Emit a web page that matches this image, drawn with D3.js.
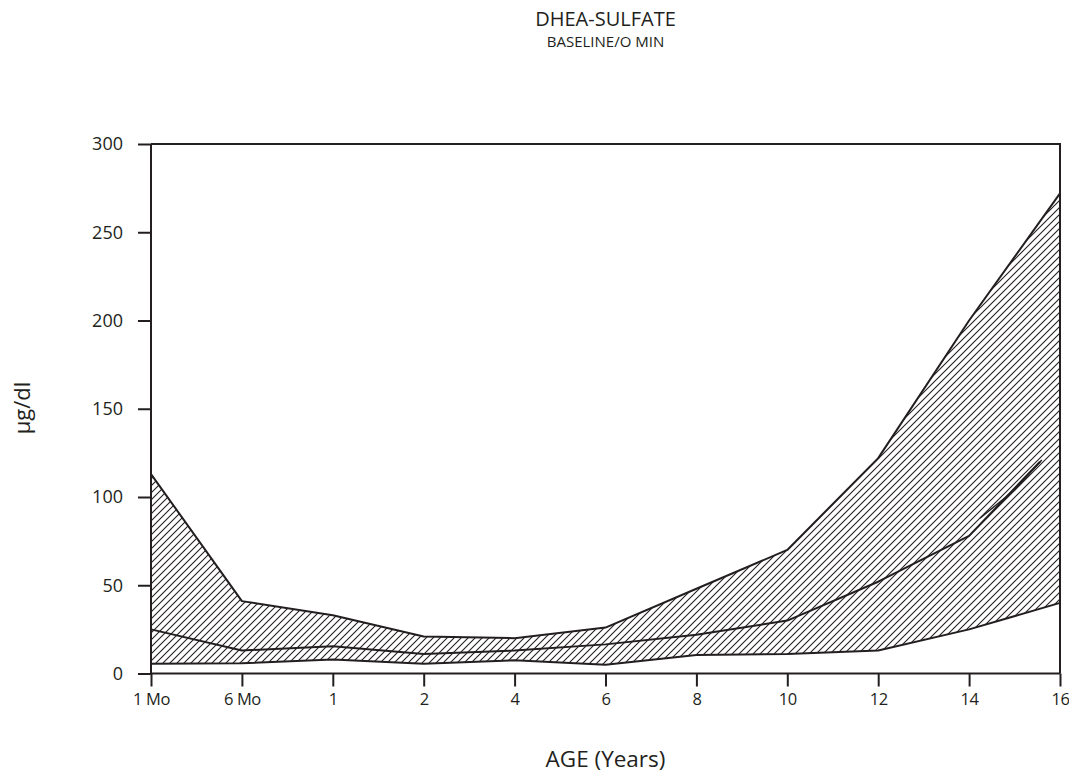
<!DOCTYPE html>
<html>
<head>
<meta charset="utf-8">
<script src="https://cdn.jsdelivr.net/npm/d3@7/dist/d3.min.js"></script>
<style>
  html, body { margin: 0; padding: 0; background: #fff; }
  svg { display: block; }
  text { font-family: "Open Sans", "DejaVu Sans", sans-serif; fill: #231f20; }
</style>
</head>
<body>
<svg id="chart" width="1069" height="773"></svg>
<script>
// ---- data ----
const categories = ["1 Mo", "6 Mo", "1", "2", "4", "6", "8", "10", "12", "14", "16"];
const upperValues  = [113, 41, 33, 21, 20, 26, 48, 70, 122, 200, 272];
const lowerValues  = [5.5, 5.8, 8, 5.5, 7.5, 5, 10.5, 11, 13, 25, 40];
// middle line: [category index, value] (ends before the last category)
const middlePoints = [[0, 25], [1, 13], [2, 15.5], [3, 11], [4, 13], [5, 16.5], [6, 22], [7, 30], [8, 52], [9, 78], [9.78, 120]];
const middleEcho   = [[9.12, 88], [9.5, 104], [9.8, 121]];
const yTicks = [0, 50, 100, 150, 200, 250, 300];
const title = "DHEA-SULFATE";
const subtitle = "BASELINE/O MIN";
const xTitle = "AGE (Years)";
const yTitle = "µg/dl";

// ---- layout ----
const svg = d3.select("#chart");
const mLeft = 151, mRight = 1060, mTop = 144, mBottom = 673.5;
const ink = "#231f20";

const x = d3.scaleLinear().domain([0, categories.length - 1]).range([mLeft, mRight]);
const y = d3.scaleLinear().domain([0, 300]).range([mBottom, mTop]);

// hatch pattern
const defs = svg.append("defs");
const pat = defs.append("pattern")
  .attr("id", "hatch")
  .attr("patternUnits", "userSpaceOnUse")
  .attr("width", 7).attr("height", 7);
pat.append("path")
  .attr("d", "M-1,1 l2,-2 M0,7 l7,-7 M6,8 l2,-2")
  .attr("stroke", ink).attr("stroke-width", 1.1).attr("fill", "none");

// band between lower and upper
const band = categories.map((c, i) => ({ i, lo: lowerValues[i], hi: upperValues[i] }));
svg.append("path")
  .datum(band)
  .attr("fill", "url(#hatch)")
  .attr("d", d3.area().x(d => x(d.i)).y0(d => y(d.lo)).y1(d => y(d.hi)));

const line = d3.line().x(d => x(d[0])).y(d => y(d[1]));
const lineStyle = sel => sel.attr("fill", "none").attr("stroke", ink).attr("stroke-width", 2).attr("stroke-linejoin", "round");

svg.append("path").datum(upperValues.map((v, i) => [i, v])).attr("d", line).call(lineStyle);
svg.append("path").datum(lowerValues.map((v, i) => [i, v])).attr("d", line).call(lineStyle);
svg.append("path").datum(middlePoints).attr("d", line).call(lineStyle);
svg.append("path").datum(middleEcho).attr("d", line).call(lineStyle).attr("stroke-width", 1.4);

// frame
svg.append("path")
  .attr("d", `M${mLeft},${mTop} H${mRight} V${mBottom}`)
  .attr("fill", "none").attr("stroke", ink).attr("stroke-width", 2);

// axes
const yAxis = d3.axisLeft(y).tickValues(yTicks).tickSize(13).tickPadding(15);
const gy = svg.append("g").attr("transform", `translate(${mLeft},0)`).call(yAxis);
const xAxis = d3.axisBottom(x).tickValues(d3.range(categories.length))
  .tickFormat(i => categories[i]).tickSize(13).tickPadding(7);
const gx = svg.append("g").attr("transform", `translate(0,${mBottom})`).call(xAxis);

[gx, gy].forEach(g => {
  g.select(".domain").attr("stroke", ink).attr("stroke-width", 2);
  g.selectAll(".tick line").attr("stroke", ink).attr("stroke-width", 2);
  g.selectAll(".tick text").attr("fill", ink)
    .attr("font-family", '"Open Sans", "DejaVu Sans", sans-serif');
});
gy.selectAll(".tick text").attr("font-size", 18);
gx.selectAll(".tick text").attr("font-size", 16.5).attr("letter-spacing", "-0.4px");
gy.select(".domain").attr("d", `M0,${mBottom}V${mTop}`);
gx.select(".domain").attr("d", `M${mLeft},0H${mRight}`);

// titles
const cx = (mLeft + mRight) / 2;
svg.append("text").attr("x", cx).attr("y", 26).attr("text-anchor", "middle").attr("font-size", 20).text(title);
svg.append("text").attr("x", cx).attr("y", 46.5).attr("text-anchor", "middle").attr("font-size", 15).text(subtitle);
svg.append("text").attr("x", cx).attr("y", 767).attr("text-anchor", "middle").attr("font-size", 22.5).text(xTitle);
svg.append("text").attr("transform", `translate(30,408) rotate(-90)`).attr("text-anchor", "middle")
  .attr("font-size", 22).text(yTitle);
</script>
</body>
</html>
